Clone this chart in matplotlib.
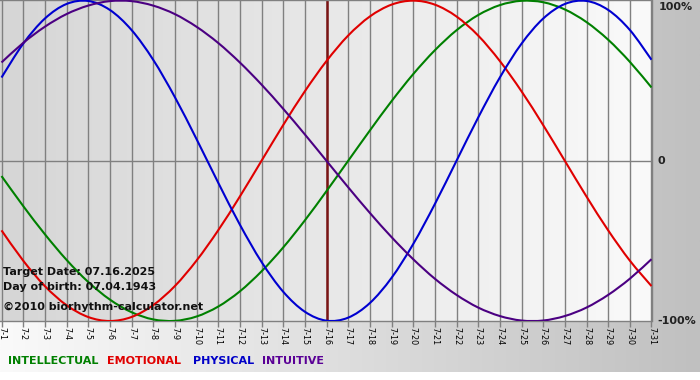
import matplotlib
matplotlib.use("Agg")
import matplotlib.pyplot as plt
import numpy as np
from matplotlib.colors import LinearSegmentedColormap
from matplotlib.path import Path
from matplotlib.patches import PathPatch

# ---- data ----
days = list(range(1, 32))
day_labels = [f"7-{d}" for d in days]
physical = [0.520, 0.731, 0.888, 0.979, 0.998, 0.942, 0.817, 0.631, 0.398, 0.136,
            -0.136, -0.398, -0.631, -0.817, -0.942, -0.998, -0.979, -0.888, -0.731, -0.520,
            -0.270, 0.000, 0.270, 0.520, 0.731, 0.888, 0.979, 0.998, 0.942, 0.817, 0.631]
emotional = [-0.434, -0.623, -0.782, -0.901, -0.975, -1.000, -0.975, -0.901, -0.782, -0.623,
             -0.434, -0.223, 0.000, 0.223, 0.434, 0.623, 0.782, 0.901, 0.975, 1.000,
             0.975, 0.901, 0.782, 0.623, 0.434, 0.223, 0.000, -0.223, -0.434, -0.623, -0.782]
intellectual = [-0.095, -0.282, -0.458, -0.618, -0.756, -0.866, -0.945, -0.990, -0.999, -0.972,
                -0.910, -0.815, -0.690, -0.541, -0.372, -0.189, 0.000, 0.189, 0.372, 0.541,
                0.690, 0.815, 0.910, 0.972, 0.999, 0.990, 0.945, 0.866, 0.756, 0.618, 0.458]
intuitive = [0.614, 0.736, 0.837, 0.916, 0.969, 0.997, 0.997, 0.969, 0.916, 0.837,
             0.736, 0.614, 0.476, 0.325, 0.165, 0.000, -0.165, -0.325, -0.476, -0.614,
             -0.736, -0.837, -0.916, -0.969, -0.997, -0.997, -0.969, -0.916, -0.837, -0.736, -0.614]
target_day = 16
y_labels = {1.0: "100%", 0.0: "0", -1.0: "-100%"}
info_lines = ["Target Date: 07.16.2025", "Day of birth: 07.04.1943", "\u00a92010 biorhythm-calculator.net"]
legend_names = ["INTELLECTUAL", "EMOTIONAL", "PHYSICAL", "INTUITIVE"]

C_INT = "#008000"
C_EMO = "#e00000"
C_PHY = "#0000d0"
C_ITU = "#4b0082"
legend_colors = ["#008000", "#e00000", "#0000c8", "#5a0096"]


def smooth_line(ax, x, y, color, lw, zorder):
    """Draw a smooth (Catmull-Rom style Bezier) line through the data points."""
    pts = np.column_stack([np.asarray(x, float), np.asarray(y, float)])
    n = len(pts)
    verts = [tuple(pts[0])]
    codes = [Path.MOVETO]
    for i in range(n - 1):
        p0 = pts[max(i - 1, 0)]
        p1 = pts[i]
        p2 = pts[i + 1]
        p3 = pts[min(i + 2, n - 1)]
        c1 = p1 + (p2 - p0) / 6.0
        c2 = p2 - (p3 - p1) / 6.0
        verts += [tuple(c1), tuple(c2), tuple(p2)]
        codes += [Path.CURVE4] * 3
    patch = PathPatch(Path(verts, codes), fill=False, edgecolor=color, lw=lw,
                      zorder=zorder, capstyle="butt", joinstyle="round")
    ax.add_patch(patch)


W, H = 700, 380
fig = plt.figure(figsize=(7, 3.8), dpi=100)

# ---- figure background gradient ----
bg = fig.add_axes([0, 0, 1, 1], zorder=-5)
cmap_bg = LinearSegmentedColormap.from_list("bg", ["#fafafa", "#c0c0c0"])
grad = np.linspace(0, 1, 256).reshape(1, -1)
bg.imshow(grad, extent=[0, 1, 8 / H, 1], aspect="auto", cmap=cmap_bg, origin="lower")
bg.set_xlim(0, 1)
bg.set_ylim(0, 1)
bg.axis("off")

# ---- main axes ----
ax_w = 651.5 / W
ax_b = 59 / H
ax_h = 321 / H
ax = fig.add_axes([0.0, ax_b, ax_w, ax_h])
x0 = 1 - 1.5 / 21.65
ax.set_xlim(x0, 31)
ax.set_ylim(-1.0, 1.004)
ax.patch.set_alpha(0)

cmap_in = LinearSegmentedColormap.from_list("in", ["#d6d6d6", "#fafafa"])
ax.imshow(grad, extent=[x0, 31, -1.0, 1.004], aspect="auto", cmap=cmap_in,
          origin="lower", zorder=0)

ax.set_xticks(days)
ax.set_xticklabels(day_labels, rotation=270, fontsize=5.8)
ax.tick_params(axis="x", length=4, width=1, color="#808080", pad=0.5)
ax.set_yticks([])
ax.grid(axis="x", color="#808080", lw=1, zorder=1)
ax.axhline(0, color="#808080", lw=1, zorder=1)
for s in ["top", "bottom", "right"]:
    ax.spines[s].set_color("#808080")
    ax.spines[s].set_linewidth(1)
ax.spines["left"].set_visible(False)

ax.axvline(target_day, color="#7a1414", lw=1.8, zorder=2)

lw = 1.5
smooth_line(ax, days, intellectual, C_INT, lw, 3)
smooth_line(ax, days, emotional, C_EMO, lw, 3)
smooth_line(ax, days, physical, C_PHY, lw, 3)
smooth_line(ax, days, intuitive, C_ITU, lw, 3)

# right value labels
for val, txt in y_labels.items():
    if val == 1.0:
        ax.annotate(txt, xy=(1, val), xycoords=("axes fraction", "data"),
                    xytext=(7, -1), textcoords="offset pixels", va="top", ha="left",
                    fontsize=8, fontweight="bold", color="#222222", annotation_clip=False)
    else:
        ax.annotate(txt, xy=(1, val), xycoords=("axes fraction", "data"),
                    xytext=(6, 0), textcoords="offset pixels",
                    va="center", ha="left", fontsize=8, fontweight="bold",
                    color="#222222", annotation_clip=False)

# info text
info_y = [272, 287, 307]
for t, yy in zip(info_lines, info_y):
    fig.text(3 / W, 1 - yy / H, t, fontsize=8, fontweight="bold", color="#111111",
             va="center", ha="left")

# legend texts
leg_x = [8, 107, 193, 262]
for name, col, xx in zip(legend_names, legend_colors, leg_x):
    fig.text(xx / W, 1 - 361 / H, name, fontsize=8, fontweight="bold", color=col,
             va="center", ha="left")

fig.savefig("out.png", dpi=100)
